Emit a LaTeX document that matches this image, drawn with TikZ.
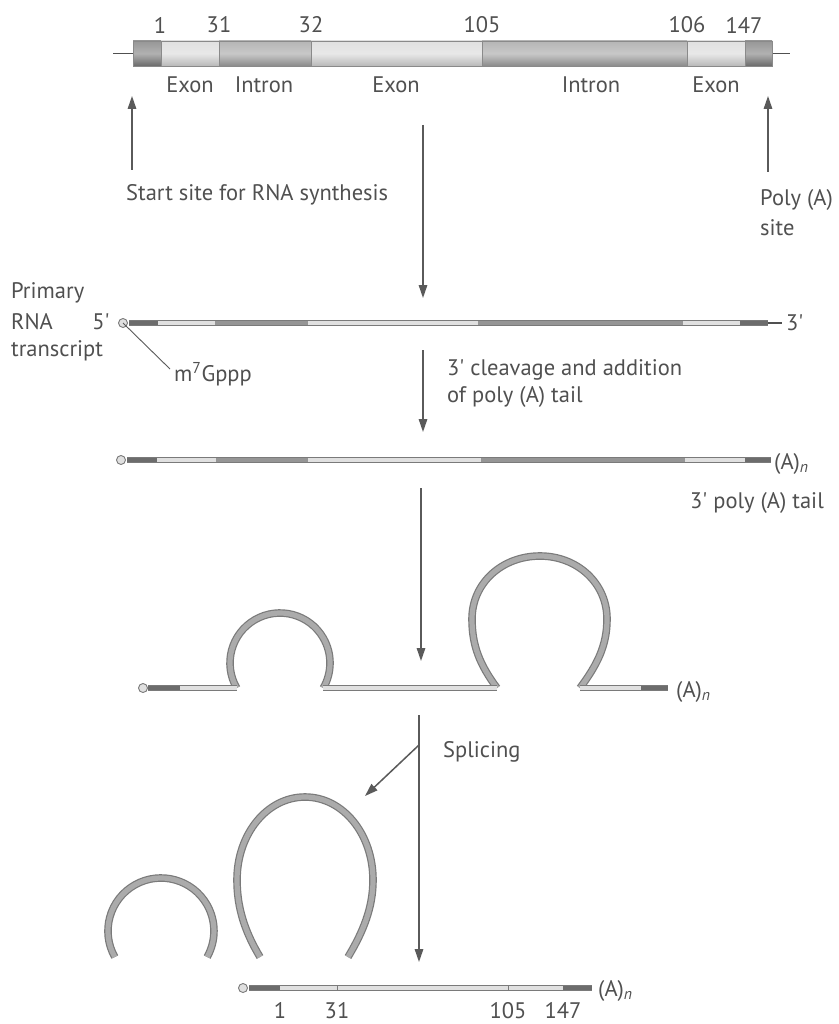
\documentclass[tikz,border=0pt]{standalone}
\usepackage{fontspec}
\setmainfont{PT Sans}[Ligatures=TeXOff]
\usetikzlibrary{arrows.meta}
\definecolor{txt}{HTML}{505050}
\definecolor{arrcol}{HTML}{5a5a5a}
\definecolor{edgec}{HTML}{7a7a7a}
\definecolor{capc}{HTML}{6c6c6c}
\definecolor{intc}{HTML}{959595}
\definecolor{exc}{HTML}{e0e0e0}
\definecolor{loopc}{HTML}{ababab}
\definecolor{barcap}{HTML}{7d7d7d}
\definecolor{barint}{HTML}{a3a3a3}
\definecolor{barex}{HTML}{d9d9d9}
\definecolor{barline}{HTML}{8a8a8a}
\newcommand\tubeout[3]{\draw[line width=6.8pt,draw=edgec] (#1,#3) -- (#2,#3);}
\newcommand\tubeseg[4]{\draw[line width=4.4pt,draw=#4] (#1,#3) -- (#2,#3);}
\newcommand\barseg[3]{\draw[draw=barline,line width=0.6pt,top color=#3!80!white,bottom color=#3!85!black,middle color=#3!60!white] (#1,41) rectangle (#2,66);}
\begin{document}
\begin{tikzpicture}[x=1pt,y=-1pt,
  font=\fontsize{22.5}{26}\selectfont,
  every node/.style={text=txt,inner sep=0pt},
  arr/.style={draw=arrcol,line width=1.5pt,-{Triangle[length=13pt,width=8.5pt]}},
  thin line/.style={draw=arrcol,line width=1.1pt},
  loopout/.style={draw=edgec,line width=7.6pt},
  loopin/.style={draw=loopc,line width=5.2pt},
  cap5/.style={circle,draw=edgec,fill=exc,line width=0.9pt,minimum size=9pt,inner sep=0pt}]
\useasboundingbox[fill=white] (0,0) rectangle (838,1024);

% ---------- gene ----------
\draw[thin line,draw=txt] (113,53.5) -- (790,53.5);
\barseg{133}{161}{barcap}
\barseg{161}{219}{barex}
\barseg{219}{311}{barint}
\barseg{311}{482}{barex}
\barseg{482}{687}{barint}
\barseg{687}{745}{barex}
\barseg{745}{772}{barcap}
\node (n1)   at (160,25) {1};
\node (n31)  at (219,25) {31};
\node (n32)  at (311,25) {32};
\node (n105) at (482,25) {105};
\node (n106) at (687,25) {106};
\node (n147) at (744,25) {147};
\node (e1) at (190,85) {Exon};
\node (i1) at (264,85) {Intron};
\node (e2) at (396,85) {Exon};
\node (i2) at (591,85) {Intron};
\node (e3) at (716,85) {Exon};

\coordinate (ssA) at (132,170);
\coordinate (ssB) at (132,96);
\draw[arr] (ssA) -- (ssB);
\node[anchor=west] (start) at (126,195) {Start site for RNA synthesis};
\coordinate (paA) at (768,172);
\coordinate (paB) at (768,96);
\draw[arr] (paA) -- (paB);
\node[anchor=west] (pa1) at (760,200) {Poly (A)};
\node[anchor=west] (pa2) at (760,228) {site};

\coordinate (a1s) at (423,125);
\coordinate (a1e) at (423,298);
\draw[arr] (a1s) -- (a1e);

% ---------- primary transcript ----------
\def\yP{323}
\draw[thin line,draw=txt] (765,\yP) -- (782,\yP);
\tubeout{129}{768}{\yP}
\tubeseg{129}{158}{\yP}{capc}
\tubeseg{158}{215}{\yP}{exc}
\tubeseg{215}{308}{\yP}{intc}
\tubeseg{308}{478}{\yP}{exc}
\tubeseg{478}{683}{\yP}{intc}
\tubeseg{683}{740}{\yP}{exc}
\tubeseg{740}{768}{\yP}{capc}
\node[cap5] (c1) at (123,\yP) {};
\node[anchor=west] (p3) at (786,\yP) {3'};
\node (p5) at (101,322) {5'};
\node[anchor=west] (pr1) at (11,293) {Primary};
\node[anchor=west] (pr2) at (11,322) {RNA};
\node[anchor=west] (pr3) at (11,351) {transcript};
\coordinate (mline) at (170,369);
\draw[thin line,line width=0.9pt] (c1.center) -- (mline);
\node[anchor=west] (m7) at (174,374) {m\textsuperscript{7}Gppp};

\coordinate (a2s) at (423,350);
\coordinate (a2e) at (423,432);
\draw[arr] (a2s) -- (a2e);
\node[anchor=west] (cl1) at (447,370) {3' cleavage and addition};
\node[anchor=west] (cl2) at (447,397) {of poly (A) tail};

% ---------- polyadenylated transcript ----------
\def\yT{460}
\tubeout{127}{771}{\yT}
\tubeseg{127}{157}{\yT}{capc}
\tubeseg{157}{216}{\yT}{exc}
\tubeseg{216}{308}{\yT}{intc}
\tubeseg{308}{481}{\yT}{exc}
\tubeseg{481}{685}{\yT}{intc}
\tubeseg{685}{745}{\yT}{exc}
\tubeseg{745}{771}{\yT}{capc}
\node[cap5] (c2) at (121,\yT) {};
\node[anchor=west] (an2) at (774,\yT+4) {(A)\textsubscript{\itshape n}};
\node[anchor=west] (tail) at (690,503) {3' poly (A) tail};

\coordinate (a3s) at (421,488);
\coordinate (a3e) at (421,661);
\draw[arr] (a3s) -- (a3e);

% ---------- loops ----------
\def\yL{688}
\draw[loopout] (236.7,\yL) arc[start angle=150,end angle=390,radius=50];
\draw[loopin]  (236.7,\yL) arc[start angle=150,end angle=390,radius=50];
\draw[loopout] (497,\yL) .. controls (480,665) and (472,646) .. (472,619) .. controls (472,583) and (502,556) .. (540,556) .. controls (577,556) and (607,583) .. (607,619) .. controls (607,646) and (597,665) .. (580,\yL);
\draw[loopin] (497,\yL) .. controls (480,665) and (472,646) .. (472,619) .. controls (472,583) and (502,556) .. (540,556) .. controls (577,556) and (607,583) .. (607,619) .. controls (607,646) and (597,665) .. (580,\yL);
\tubeout{148}{236.7}{\yL}
\tubeout{323.3}{497}{\yL}
\tubeout{580}{668}{\yL}
\tubeseg{148}{180}{\yL}{capc}
\tubeseg{180}{236.7}{\yL}{exc}
\tubeseg{323.3}{497}{\yL}{exc}
\tubeseg{580}{641}{\yL}{exc}
\tubeseg{641}{668}{\yL}{capc}
\node[cap5] (c3) at (143,\yL) {};
\node[anchor=west] (an3) at (676,\yL+4) {(A)\textsubscript{\itshape n}};

% ---------- splicing ----------
\coordinate (a4s) at (419,715);
\coordinate (a4b) at (419,745);
\coordinate (a4e) at (419,962);
\coordinate (a4f) at (365,796);
\draw[arr] (a4s) -- (a4e);
\draw[arr] (a4b) -- (a4f);
\node[anchor=west] (spl) at (443,752) {Splicing};

\draw[loopout] (114.8,957) arc[start angle=150.6,end angle=389.4,radius=53];
\draw[loopin]  (114.8,957) arc[start angle=150.6,end angle=389.4,radius=53];
\draw[loopout] (260,957) .. controls (245,932) and (237,908) .. (237,880) .. controls (237,834) and (267,797) .. (305,797) .. controls (343,797) and (373,834) .. (373,880) .. controls (373,908) and (363,932) .. (348,957);
\draw[loopin] (260,957) .. controls (245,932) and (237,908) .. (237,880) .. controls (237,834) and (267,797) .. (305,797) .. controls (343,797) and (373,834) .. (373,880) .. controls (373,908) and (363,932) .. (348,957);

% ---------- mature mRNA ----------
\def\yM{988}
\tubeout{249}{592}{\yM}
\tubeseg{249}{280}{\yM}{capc}
\tubeseg{280}{336.5}{\yM}{exc}
\tubeseg{337.5}{507.5}{\yM}{exc}
\tubeseg{508.5}{563}{\yM}{exc}
\tubeseg{563}{592}{\yM}{capc}
\node[cap5] (c4) at (243,\yM) {};
\node[anchor=west] (an4) at (598,\yM+3) {(A)\textsubscript{\itshape n}};
\node[anchor=base] (m1)   at (280,1018) {1};
\node[anchor=base] (m31)  at (337,1018) {31};
\node[anchor=base] (m105) at (508,1018) {105};
\node[anchor=base] (m147) at (563,1018) {147};
\end{tikzpicture}
\end{document}
